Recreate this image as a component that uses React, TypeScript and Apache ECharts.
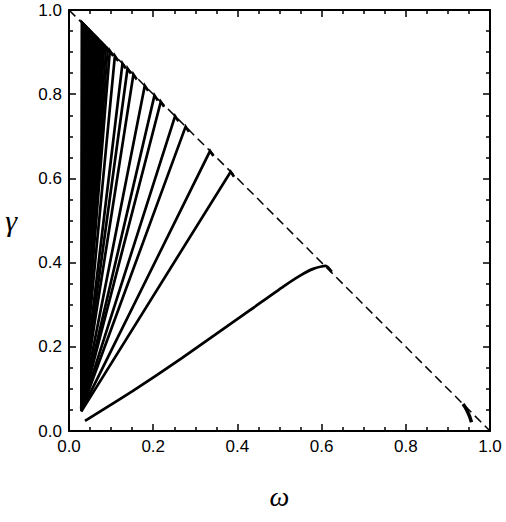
import React, { useEffect, useRef } from "react";
import * as echarts from "echarts";

// Lowest (first) tongue, traced point by point
const lowOmega = [0.038, 0.15, 0.268, 0.43, 0.509, 0.549, 0.58, 0.61, 0.624];
const lowGamma = [0.024, 0.094, 0.173, 0.287, 0.343, 0.369, 0.385, 0.392, 0.378];

// Small curve near the lower-right corner
const cornerOmega = [0.936, 0.943, 0.951, 0.956];
const cornerGamma = [0.064, 0.053, 0.036, 0.021];

// Other tongues: straight from a common start on the left to an apex on the dashed line, short tail
const peakOmega = [0.384, 0.335, 0.277, 0.252, 0.218, 0.203, 0.180, 0.153, 0.139, 0.127, 0.109, 0.097,
  0.092, 0.088, 0.084, 0.081, 0.078, 0.075, 0.072, 0.070, 0.068, 0.066, 0.064, 0.062, 0.060, 0.058,
  0.056, 0.055, 0.053, 0.052, 0.050, 0.049, 0.048, 0.046, 0.045, 0.044, 0.043, 0.042, 0.041, 0.040,
  0.039, 0.038, 0.037, 0.036, 0.035, 0.034, 0.033, 0.032, 0.031, 0.030];
const startGamma = [0.046, 0.047, 0.048, 0.049, 0.050, 0.051, 0.052, 0.053, 0.054, 0.055, 0.056, 0.057,
  0.058, 0.059, 0.060, 0.061, 0.062, 0.063, 0.064, 0.065, 0.066, 0.067, 0.068, 0.069, 0.070, 0.071,
  0.072, 0.073, 0.074, 0.075, 0.076, 0.077, 0.078, 0.079, 0.080, 0.081, 0.082, 0.083, 0.084, 0.085,
  0.086, 0.087, 0.088, 0.089, 0.090, 0.091, 0.092, 0.093, 0.094, 0.095];
const startOmega = 0.029;
const tailOffset = [0.008, -0.012];

const boundary = [[0, 1], [1, 0]];
const ticks = [0, 0.2, 0.4, 0.6, 0.8, 1.0];

export default function App() {
  const ref = useRef<HTMLDivElement>(null);
  useEffect(() => {
    if (!ref.current) return;
    const chart = echarts.init(ref.current, null, { renderer: "svg" });
    const axisCommon = (show: boolean) => ({
      type: "value",
      min: ticks[0],
      max: ticks[ticks.length - 1],
      interval: 0.2,
      axisLine: { show: true, onZero: false, lineStyle: { color: "#000", width: 2 } },
      axisTick: { show: true, inside: true, length: 7, lineStyle: { color: "#000", width: 1.5 } },
      minorTick: { show: true, splitNumber: 4, length: 4, lineStyle: { color: "#000", width: 1.5 } },
      splitLine: { show: false },
      minorSplitLine: { show: false },
      axisLabel: {
        show,
        formatter: (v: number) => v.toFixed(1),
        fontSize: 17,
        color: "#000",
        fontFamily: "Liberation Sans, Arial, sans-serif",
        margin: 7,
        hideOverlap: false,
        showMaxLabel: true,
        showMinLabel: true,
      },
    });

    const lineSeries: any[] = [];
    lineSeries.push({
      type: "line",
      data: boundary,
      showSymbol: false,
      lineStyle: { color: "#000", width: 1.5, type: [9, 5] },
      z: 1,
    });
    lineSeries.push({
      type: "line",
      data: lowOmega.map((w, i) => [w, lowGamma[i]]),
      showSymbol: false,
      smooth: 0.2,
      lineStyle: { color: "#000", width: 2.8 },
    });
    lineSeries.push({
      type: "line",
      data: cornerOmega.map((w, i) => [w, cornerGamma[i]]),
      showSymbol: false,
      smooth: 0.3,
      lineStyle: { color: "#000", width: 3.5 },
    });
    peakOmega.forEach((p, i) => {
      const pts: number[][] = [
        [startOmega, startGamma[i]],
        [p, 1 - p],
        [p + tailOffset[0], 1 - p + tailOffset[1]],
      ];
      lineSeries.push({
        type: "line",
        data: pts,
        showSymbol: false,
        lineStyle: { color: "#000", width: i < 12 ? 2.7 : 2.2, join: "miter" },
      });
    });

    chart.setOption({
      animation: false,
      backgroundColor: "#fff",
      grid: { left: 69, right: 16, top: 10, bottom: 91, containLabel: false },
      xAxis: [
        {
          ...axisCommon(true),
          position: "bottom",
          name: "ω",
          nameLocation: "middle",
          nameGap: 51,
          nameTextStyle: { fontSize: 28, fontStyle: "italic", fontFamily: "Liberation Serif, serif", color: "#000" },
        },
        { ...axisCommon(false), position: "top" },
      ],
      yAxis: [
        {
          ...axisCommon(true),
          position: "left",
          name: "γ",
          nameLocation: "middle",
          nameRotate: 0,
          nameGap: 52,
          nameTextStyle: { fontSize: 30, fontStyle: "italic", fontFamily: "Liberation Serif, serif", color: "#000" },
        },
        { ...axisCommon(false), position: "right" },
      ],
      series: lineSeries,
    });
    return () => chart.dispose();
  }, []);
  return <div ref={ref} style={{ position: "absolute", left: 0, top: 0, width: 506, height: 522 }} />;
}
